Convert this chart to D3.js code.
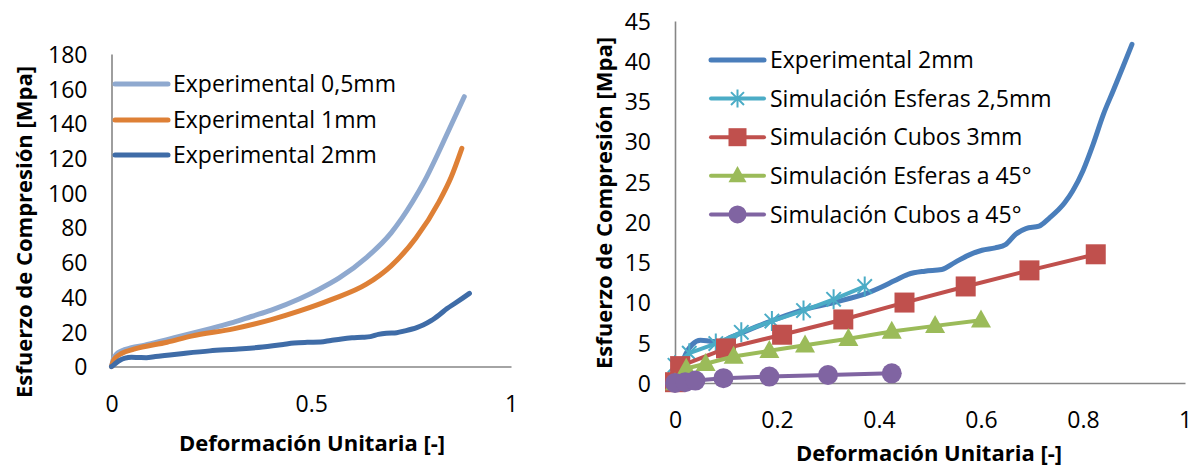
<!DOCTYPE html>
<html><head><meta charset="utf-8">
<script src="https://cdn.jsdelivr.net/npm/d3@7"></script>
<style>
body{margin:0;background:#fff}
svg text{font-family:"Open Sans",sans-serif;fill:#000}
</style></head>
<body><svg id="c" width="1194" height="466"></svg>
<script>
// ---------- DATA ----------
const exp05 = [[0,0],[0.005,4.5],[0.012,7],[0.025,9],[0.05,10.8],[0.083,12.3],[0.139,15.5],[0.2,19],[0.25,22],[0.305,25.4],[0.35,28.8],[0.4,32.5],[0.471,39],[0.52,44.5],[0.57,51],[0.638,62.7],[0.7,77],[0.754,95],[0.783,106.6],[0.82,124],[0.85,139],[0.883,155.4]];
const exp1 = [[0,0],[0.005,3.5],[0.012,5.5],[0.025,7.5],[0.056,10],[0.139,14],[0.2,17.5],[0.305,21.7],[0.4,27],[0.471,32],[0.55,38.5],[0.638,47.4],[0.7,58],[0.762,74],[0.82,95],[0.85,109],[0.877,125.7]];
const exp2 = [[0,0],[0.005,0.8],[0.012,2.2],[0.021,3.6],[0.034,4.8],[0.05,5.3],[0.068,5.2],[0.087,5.1],[0.11,5.7],[0.133,6.3],[0.18,7.5],[0.246,9.0],[0.311,10.0],[0.378,11.2],[0.404,11.9],[0.43,12.7],[0.457,13.5],[0.49,13.9],[0.523,14.1],[0.549,15.0],[0.576,15.9],[0.602,16.5],[0.628,16.8],[0.648,17.2],[0.668,18.5],[0.688,19.2],[0.714,19.5],[0.734,20.5],[0.764,22.4],[0.78,23.9],[0.8,26.4],[0.82,29.7],[0.84,33.4],[0.859,36.3],[0.879,39.4],[0.896,42.1]];
const simEsferas25 = [[0,2.2],[0.028,3.7],[0.08,4.9],[0.13,6.3],[0.19,7.7],[0.252,9.0],[0.311,10.4],[0.372,12.0]];
const simCubos3 = [[0,0.1],[0.01,2.1],[0.1,4.3],[0.21,6.0],[0.33,7.9],[0.45,10],[0.57,12],[0.695,14],[0.825,16]];
const simEsferas45 = [[0,0],[0.022,1.8],[0.06,2.4],[0.115,3.3],[0.185,4.0],[0.255,4.7],[0.34,5.5],[0.425,6.4],[0.51,7.1],[0.6,7.8]];
const simCubos45 = [[0,0],[0.02,0.1],[0.04,0.3],[0.095,0.6],[0.185,0.8],[0.3,1.0],[0.425,1.2]];

const leftNames = ["Experimental 0,5mm","Experimental 1mm","Experimental 2mm"];
const rightNames = ["Experimental 2mm","Simulación Esferas 2,5mm","Simulación Cubos 3mm","Simulación Esferas a 45°","Simulación Cubos a 45°"];
const leftXTicks = [0,0.5,1];
const leftXLabels = ["0","0.5","1"];
const leftYTicks = [0,20,40,60,80,100,120,140,160,180];
const rightXTicks = [0,0.2,0.4,0.6,0.8,1];
const rightXLabels = ["0","0.2","0.4","0.6","0.8","1"];
const rightYTicks = [0,5,10,15,20,25,30,35,40,45];
const xTitle = "Deformación Unitaria [-]";
const yTitle = "Esfuerzo de Compresión [Mpa]";

// ---------- STYLE ----------
const svg = d3.select("#c");
const AXC = "#868686";
const TICKFS = 23, TITLEFS = 22;

function drawAxes(x, y, xt, xl, yt, xTitlePos, yTitlePos) {
  const gy = svg.append("g").attr("transform", `translate(${x.range()[0]},0)`)
    .call(d3.axisLeft(y).tickValues(yt).tickSize(0).tickSizeOuter(0).tickPadding(24).tickFormat(d3.format("d")));
  gy.select(".domain").attr("stroke", AXC).attr("stroke-width", 1.6);
  gy.selectAll("text").attr("font-size", TICKFS).attr("dy", "0.36em").attr("font-family", "Open Sans");
  const gx = svg.append("g").attr("transform", `translate(0,${y.range()[0]})`)
    .call(d3.axisBottom(x).tickValues(xt).tickSize(0).tickSizeOuter(0).tickFormat((d,i) => xl[i]));
  gx.select(".domain").attr("stroke", AXC).attr("stroke-width", 1.6);
  gx.selectAll("text").attr("font-size", TICKFS).attr("y", 37).attr("dy", "0.36em").attr("font-family", "Open Sans");
  svg.append("text").attr("x", xTitlePos[0]).attr("y", xTitlePos[1]).attr("dy", "0.36em")
    .attr("text-anchor", "middle").attr("font-weight", "bold").attr("font-size", TITLEFS).text(xTitle);
  svg.append("text").attr("transform", `translate(${yTitlePos[0]},${yTitlePos[1]}) rotate(-90)`).attr("dy", "0.36em")
    .attr("text-anchor", "middle").attr("font-weight", "bold").attr("font-size", TITLEFS).text(yTitle);
}

// ---------- LEFT CHART ----------
const xL = d3.scaleLinear().domain([0,1]).range([111.5,511]);
const yL = d3.scaleLinear().domain([0,180]).range([366.5,54]);
drawAxes(xL, yL, leftXTicks, leftXLabels, leftYTicks, [312,443], [24,232]);

const lineL = d3.line().x(d => xL(d[0])).y(d => yL(d[1])).curve(d3.curveMonotoneX);
const leftSeries = [exp05, exp1, exp2];
const leftColors = ["#8FA9CF","#DE8036","#3F6CA7"];
leftSeries.forEach((s,i) => {
  svg.append("path").attr("d", lineL(s)).attr("fill","none").attr("stroke", leftColors[i])
    .attr("stroke-width", 5).attr("stroke-linecap","round").attr("stroke-linejoin","round");
});
leftNames.forEach((n,i) => {
  const yy = [84,120,155][i];
  svg.append("line").attr("x1",115).attr("x2",168).attr("y1",yy).attr("y2",yy)
    .attr("stroke", leftColors[i]).attr("stroke-width",5).attr("stroke-linecap","round");
  svg.append("text").attr("x",173).attr("y",yy).attr("dy","0.36em").attr("font-size",TICKFS).text(n);
});

// ---------- RIGHT CHART ----------
const xR = d3.scaleLinear().domain([0,1]).range([675,1185]);
const yR = d3.scaleLinear().domain([0,45]).range([383,21]);
drawAxes(xR, yR, rightXTicks, rightXLabels, rightYTicks, [929,453], [604,203]);

const rightColors = ["#4A7EBB","#4BACC6","#C0504D","#9BBB59","#8064A2"];
const rightSeries = [exp2, simEsferas25, simCubos3, simEsferas45, simCubos45];
const markerTypes = [null,"star","square","triangle","circle"];

function marker(g, type, cx, cy, color, s) {
  if (type === "square") {
    g.append("rect").attr("x", cx - s/2).attr("y", cy - s/2).attr("width", s).attr("height", s).attr("fill", color);
  } else if (type === "circle") {
    g.append("circle").attr("cx", cx).attr("cy", cy).attr("r", s/2).attr("fill", color);
  } else if (type === "triangle") {
    const h = s*0.9;
    g.append("path").attr("d", `M${cx},${cy-h*0.6}L${cx+s/2},${cy+h*0.4}L${cx-s/2},${cy+h*0.4}Z`).attr("fill", color);
  } else if (type === "star") {
    const r = s/2, k = r*0.72;
    g.append("path").attr("d", `M${cx},${cy-r}L${cx},${cy+r}M${cx-k},${cy-k}L${cx+k},${cy+k}M${cx-k},${cy+k}L${cx+k},${cy-k}`)
      .attr("stroke", color).attr("stroke-width", 2).attr("fill","none");
  }
}

rightSeries.forEach((s,i) => {
  const ln = d3.line().x(d => xR(d[0])).y(d => yR(d[1]));
  if (i === 0) ln.curve(d3.curveMonotoneX);
  const g = svg.append("g");
  g.append("path").attr("d", ln(s)).attr("fill","none").attr("stroke", rightColors[i])
    .attr("stroke-width", i === 0 ? 5 : 4).attr("stroke-linecap","round").attr("stroke-linejoin","round");
  if (markerTypes[i]) s.forEach(d => marker(g, markerTypes[i], xR(d[0]), yR(d[1]), rightColors[i], 20));
});

rightNames.forEach((n,i) => {
  const yy = 60 + i*38.6;
  const g = svg.append("g");
  g.append("line").attr("x1",711).attr("x2",764).attr("y1",yy).attr("y2",yy)
    .attr("stroke", rightColors[i]).attr("stroke-width", i === 0 ? 5 : 4).attr("stroke-linecap","round");
  if (markerTypes[i]) marker(g, markerTypes[i], 737.5, yy, rightColors[i], 18);
  svg.append("text").attr("x",770).attr("y",yy).attr("dy","0.36em").attr("font-size",TICKFS).text(n);
});
</script></body></html>
